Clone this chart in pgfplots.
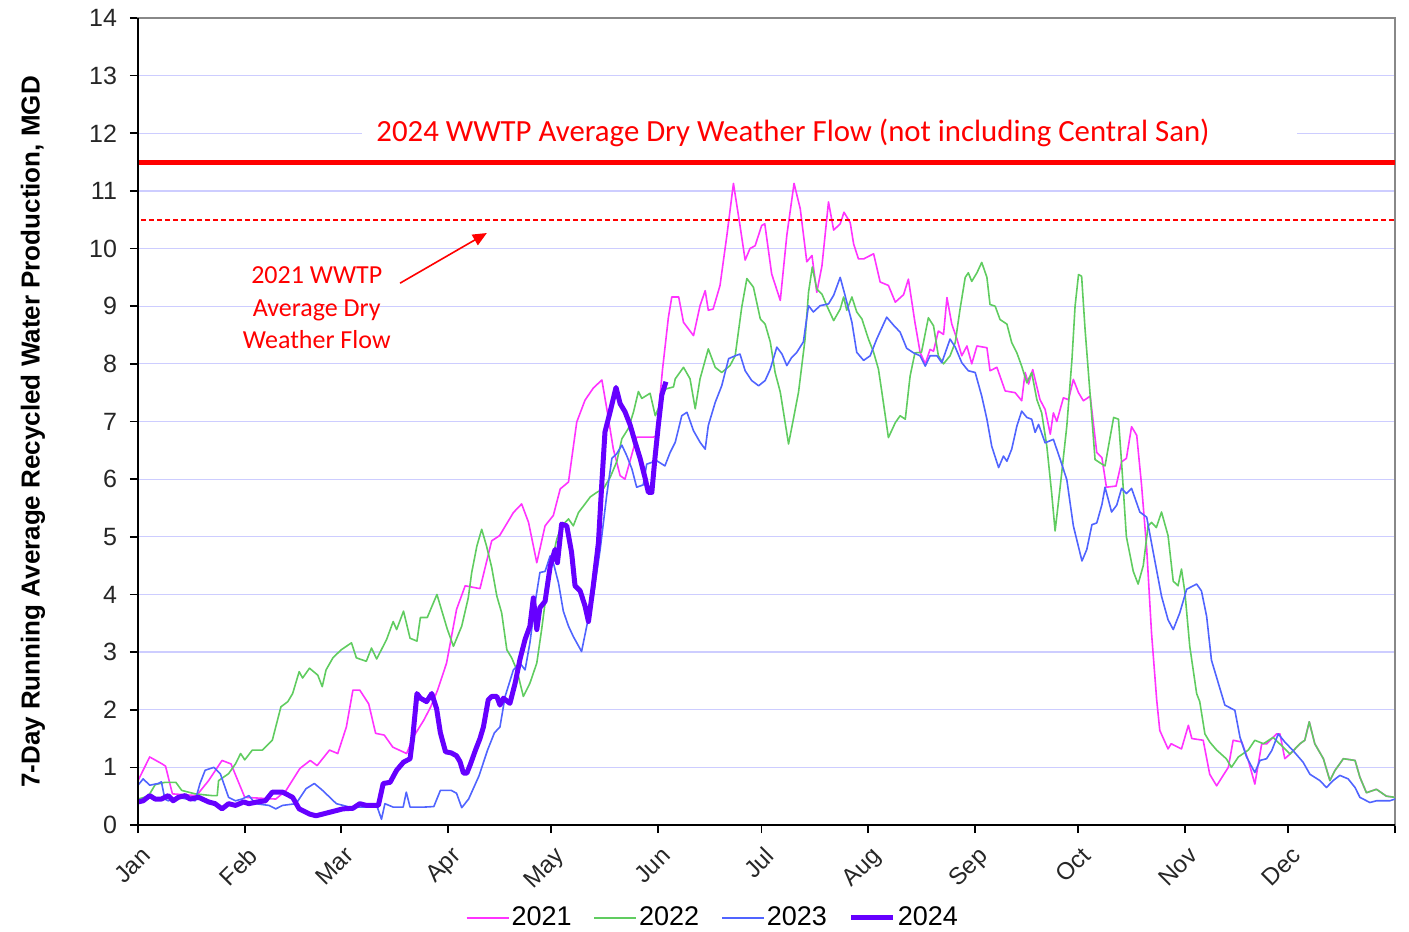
\documentclass[border=0pt]{standalone}
\usepackage{pgfplots}
\pgfplotsset{compat=1.18}
\usepackage{fontspec}
\setmainfont{Liberation Sans}
\newfontfamily\calfont{Carlito}
\usetikzlibrary{arrows.meta}
\definecolor{c21}{RGB}{255,51,255}
\definecolor{c22}{RGB}{96,204,96}
\definecolor{c23}{RGB}{80,100,255}
\definecolor{c24}{RGB}{102,0,255}
\definecolor{gridc}{RGB}{205,205,255}
\definecolor{redc}{RGB}{255,0,0}
\definecolor{framec}{RGB}{136,136,136}

\pgfplotstableread{
d v
0 0.77
3.4 1.18
7 1.06
8 1.02
10 0.54
17 0.51
20.5 0.77
24.4 1.12
27 1.06
31 0.48
40 0.45
43 0.6
47 0.98
50 1.12
52 1.03
55.6 1.3
58 1.24
60.5 1.7
62.4 2.34
64.4 2.34
67 2.1
69 1.59
71.5 1.56
74 1.35
78 1.24
80 1.53
83 1.82
85 2.05
87 2.34
89.6 2.81
92.5 3.74
95 4.15
99.3 4.1
102.7 4.93
105 5.02
109 5.42
111.4 5.57
113.4 5.25
115.8 4.55
118.2 5.19
120.6 5.37
122.6 5.83
125 5.95
127.4 6.99
129.8 7.37
132.2 7.58
134.7 7.72
136.1 7.23
138 6.53
140 6.06
141.4 6.0
144.8 6.73
149.7 6.73
150.5 6.75
152.3 7.9
154 8.8
155 9.16
157 9.16
158.4 8.72
161.3 8.49
163.2 9.01
164.7 9.27
165.6 8.93
167 8.95
169 9.36
171 10.23
172.9 11.13
174.8 10.4
176.3 9.8
177.7 10.0
179.2 10.05
181.1 10.4
182 10.43
184 9.56
186.5 9.1
188.4 10.23
190.5 11.13
192.3 10.69
194.2 9.77
195.7 9.88
197.1 9.24
198.6 9.7
200.5 10.81
202 10.32
203.9 10.43
205 10.63
206.8 10.45
207.8 10.08
209.2 9.82
210.7 9.82
213.6 9.91
215.5 9.42
217.9 9.36
219.9 9.07
222.3 9.2
223.7 9.47
225.6 8.72
227.1 8.2
228.6 8.0
230 8.25
231 8.22
232.4 8.57
233.9 8.51
234.9 9.15
236.3 8.69
237.8 8.43
239.2 8.14
240.7 8.31
242.1 8.0
243.6 8.31
246.5 8.28
247.4 7.88
249.4 7.94
251.8 7.53
254.7 7.5
256.6 7.36
257.6 7.85
258.6 7.65
259.8 7.9
261.9 7.38
263.4 7.21
264.9 6.78
265.8 7.15
266.8 7.0
268.7 7.41
270.2 7.38
271.6 7.73
273.1 7.5
274.5 7.36
276.5 7.44
278.4 6.46
279.9 6.37
281.2 5.86
284 5.88
285.6 6.3
287 6.36
288.5 6.91
290 6.76
291.4 5.9
292.9 4.79
294.3 3.33
295.8 2.17
296.7 1.64
299.1 1.32
300 1.41
303 1.32
305 1.73
306 1.5
309.3 1.47
311.2 0.88
313.2 0.68
315.1 0.86
316.6 1.0
318 1.47
320.5 1.44
322.4 1.12
324.3 0.71
326.3 1.41
327.8 1.41
330.6 1.58
331.6 1.58
333 1.15
334.5 1.23
337.4 1.41
338.8 1.47
340.1 1.79
341.7 1.41
344.2 1.15
346.1 0.77
347.5 0.94
350 1.15
353.4 1.12
354.8 0.83
356.7 0.56
359.6 0.62
362.5 0.5
365 0.48
}\dataA

\pgfplotstableread{
d v
0 0.45
3 0.5
5 0.7
7.8 0.74
11 0.74
12.7 0.6
16.6 0.54
21.5 0.51
23 0.51
23.4 0.77
26.3 0.89
28.3 1.06
29.8 1.24
31 1.13
33.2 1.3
36.1 1.3
39 1.47
41.5 2.05
43.5 2.14
44.9 2.28
46.8 2.66
47.8 2.55
49.8 2.72
52.2 2.6
53.5 2.4
54.6 2.69
56.6 2.9
59 3.04
62 3.16
63.4 2.9
66.3 2.84
67.8 3.07
69.3 2.88
72.2 3.22
74.1 3.53
75.1 3.39
77.1 3.71
79 3.24
81 3.19
82 3.6
84 3.6
86.8 4.0
89.8 3.4
91.6 3.1
94 3.45
95.9 3.94
96.9 4.38
98.4 4.84
99.8 5.13
101.2 4.84
102.7 4.47
104.2 3.97
105.6 3.68
107.1 3.04
108.5 2.9
110 2.69
111.9 2.23
113.8 2.46
115.8 2.81
117.2 3.39
118.2 3.85
120.1 4.55
121.6 4.96
123 5.19
125 5.31
126.4 5.19
127.9 5.42
129.8 5.57
131.3 5.69
133.2 5.77
135.1 5.83
137.1 6.03
139 6.3
140.5 6.7
142.4 6.88
143.9 7.17
145.3 7.52
146.3 7.4
148.7 7.49
150.2 7.1
151.6 7.3
153 7.56
155.5 7.6
156 7.74
158.4 7.94
160.3 7.74
161.8 7.22
163.2 7.74
165.6 8.26
166.6 8.1
167.6 7.94
169.5 7.85
171.9 7.97
173.4 8.14
175.3 8.98
176.8 9.48
178.7 9.33
180.7 8.78
182.1 8.69
183.6 8.38
185 7.85
186.5 7.51
188.9 6.61
190.3 7.04
191.8 7.51
193.7 8.43
194.7 9.24
195.8 9.68
197.1 9.3
198.6 9.21
200 9.01
202 8.75
203.9 8.95
204.9 9.16
205.8 8.93
207.3 9.16
208.7 8.9
210.2 8.78
212.1 8.43
213.6 8.2
215 7.91
216 7.51
217.9 6.72
219.9 6.98
221.3 7.1
222.8 7.04
224.2 7.79
225.6 8.19
227.5 8.2
229.5 8.8
231 8.66
232.4 8.14
233.9 8.0
235.8 8.14
237.3 8.37
238.7 8.95
240.2 9.5
241.1 9.58
242.1 9.43
243.6 9.58
245 9.76
246.5 9.5
247.4 9.03
248.9 9.0
250.3 8.77
252.3 8.69
253.7 8.37
255.2 8.19
256.6 7.96
258.1 7.67
259.5 7.85
261 7.38
262.4 7.15
263.9 6.57
265.3 5.76
266.3 5.1
267.8 5.88
269.7 6.92
271.2 8.08
272.1 9.0
273.1 9.55
274 9.52
275 8.6
276.5 7.44
277.9 6.34
279.4 6.28
280.8 6.23
281.8 6.57
283.3 7.07
284.7 7.04
285.7 6.2
287 5.0
289 4.4
290.4 4.18
291.9 4.5
293.3 5.19
294.3 5.25
295.7 5.16
297.2 5.43
299.1 5.02
300.6 4.23
302 4.15
303 4.44
304 4.03
305.4 3.1
307.4 2.28
308.3 2.14
309.8 1.58
311.2 1.44
313.2 1.3
316 1.15
317.5 1.0
319.5 1.18
322.4 1.3
324.3 1.47
326.8 1.41
329.6 1.52
332 1.38
334.5 1.23
337.4 1.41
338.8 1.47
340.1 1.79
341.7 1.41
344.2 1.15
346.1 0.77
347.5 0.94
350 1.15
353.4 1.12
354.8 0.83
356.7 0.56
359.6 0.62
362.5 0.5
365 0.48
}\dataB

\pgfplotstableread{
d v
0 0.69
1.5 0.8
3.4 0.69
5.9 0.72
6.8 0.75
7.8 0.45
8.8 0.42
11.7 0.48
16.6 0.42
18 0.72
19.5 0.95
22 1.0
23.9 0.89
26.3 0.48
28.3 0.42
30.2 0.45
32.2 0.51
34.1 0.37
38 0.34
40 0.28
42 0.34
45.9 0.37
48.8 0.63
51.2 0.72
53.6 0.6
57.6 0.37
61.5 0.31
65.4 0.31
69.3 0.34
70.7 0.1
71.7 0.37
74.1 0.31
77 0.31
77.9 0.57
79 0.31
82.9 0.31
85.9 0.32
87.8 0.6
91 0.6
92.5 0.55
94 0.3
96 0.45
99 0.85
101.5 1.3
103.5 1.6
105.1 1.7
106.6 2.23
109 2.69
110.9 2.81
112.4 2.69
113.8 3.16
115.3 3.85
116.7 4.38
118.2 4.4
119.7 4.67
120.6 4.55
122.1 4.2
123.5 3.71
125 3.45
126.4 3.27
128.8 3.01
130.3 3.45
132.2 3.97
134.2 4.78
136.1 5.72
137.6 6.36
139 6.44
140.5 6.59
141.9 6.41
143.4 6.18
144.8 5.86
146.7 5.9
147.7 6.26
150.6 6.32
153 6.23
154.5 6.46
156 6.64
157.9 7.1
159.4 7.16
161.3 6.84
163.2 6.64
164.7 6.52
165.6 6.93
167.6 7.33
169.5 7.62
171.5 8.09
173.4 8.14
174.8 8.17
176.3 7.88
178.2 7.71
180.2 7.62
182.1 7.71
183.6 7.91
185.5 8.29
187 8.17
188.4 7.97
189.8 8.11
191.3 8.2
193.2 8.38
194.7 9.01
196.1 8.9
198.1 9.01
200.5 9.04
202 9.19
203.9 9.5
205.3 9.19
207.3 8.72
208.7 8.2
210.7 8.06
212.6 8.14
214.5 8.43
217.4 8.81
219.4 8.67
221.3 8.55
223.2 8.27
225.2 8.19
227.1 8.14
228.6 7.96
230 8.14
232 8.14
233.4 8.02
235.8 8.43
237.3 8.29
239.2 8.02
241.1 7.88
243.1 7.85
245 7.44
246.5 7.04
247.9 6.57
249.9 6.2
251.3 6.4
252.3 6.31
253.7 6.52
255.2 6.92
256.6 7.18
258.1 7.07
259.5 7.04
260.5 6.81
261.5 6.95
263.4 6.63
265.8 6.69
267.8 6.34
269.7 5.99
271.6 5.19
274.1 4.58
275.5 4.78
277 5.21
278.4 5.24
279.9 5.56
280.8 5.86
282.7 5.43
284.2 5.55
285.6 5.84
287 5.75
288.5 5.84
290.9 5.43
292.9 5.34
294.8 4.73
297.2 3.97
299.1 3.56
300.6 3.39
302.5 3.68
304.5 4.09
307.4 4.18
308.8 4.06
310.3 3.62
311.7 2.86
313.7 2.46
315.6 2.08
318.5 1.99
320 1.52
321.9 1.18
324.3 0.91
325.8 1.12
327.7 1.15
329.2 1.29
331.1 1.58
333 1.44
335.4 1.29
338.3 1.09
340.3 0.88
343.2 0.77
345.1 0.65
347 0.77
349 0.86
351.4 0.8
353.4 0.65
354.8 0.48
357.7 0.39
359.6 0.42
363.5 0.42
365 0.45
}\dataC

\pgfplotstableread{
d v
0 0.4
1.5 0.42
3.4 0.51
5 0.45
6.8 0.45
8.8 0.51
10.2 0.42
11.7 0.48
13.7 0.51
15.1 0.45
17.6 0.48
20.5 0.4
22.4 0.37
24.4 0.28
26.3 0.37
28.3 0.34
30.7 0.4
32.2 0.37
34.6 0.4
37 0.42
39 0.57
42 0.57
44.9 0.48
46.8 0.28
49.8 0.19
51.7 0.16
55.6 0.22
59.5 0.28
62.4 0.29
64.4 0.37
66.3 0.34
69.8 0.34
71.2 0.72
73.2 0.74
75.1 0.95
77.1 1.09
79 1.15
79.8 1.53
81 2.28
82 2.2
83.8 2.14
85.3 2.28
86.7 2.02
87.8 1.6
89.3 1.27
91 1.25
92.5 1.2
93.5 1.1
94.5 0.9
95.5 0.9
96.5 1.05
98 1.3
99.3 1.5
100.3 1.7
101.7 2.17
102.7 2.23
104.2 2.23
105.1 2.08
106.1 2.2
108 2.11
109.5 2.46
110.9 2.87
112.4 3.22
113.8 3.45
114.8 3.94
115.8 3.39
116.7 3.77
118.2 3.88
119.7 4.49
121.1 4.78
121.8 4.55
123 5.22
124.5 5.19
125.9 4.73
126.9 4.15
128.4 4.06
129.8 3.8
130.8 3.53
132.2 4.15
133.7 4.9
134.7 5.95
135.6 6.82
137.1 7.17
138.8 7.59
140 7.31
141.4 7.17
142.9 6.94
144.3 6.65
145.8 6.36
147.2 6.03
148.2 5.77
149.2 5.77
150.1 6.36
151.1 6.94
152.1 7.46
153.3 7.69
}\dataD

\begin{document}
\begin{tikzpicture}
\path[use as bounding box] (-69pt,-53.5pt) rectangle (635.5pt,412.5pt);
\begin{axis}[
  at={(0pt,0pt)}, anchor=south west,
  scale only axis, width=628.5pt, height=403.5pt,
  xmin=0, xmax=365, ymin=0, ymax=14,
  clip=false,
  xtick={0,31,59,90,120,151,181,212,243,273,304,334,365},
  xticklabels={Jan,Feb,Mar,Apr,May,Jun,Jul,Aug,Sep,Oct,Nov,Dec,},
  ytick={0,1,...,14},
  ymajorgrids, grid style={gridc, line width=0.6pt},
  tick align=outside, tick pos=left, major tick length=4pt,
  tick style={black, line width=0.8pt},
  axis line style={draw=framec, line width=1.4pt},
  /pgf/number format/assume math mode=true,
  yticklabel style={font=\fontsize{12.5}{14}\selectfont, color=black!85, xshift=-3pt},
  xticklabel style={font=\fontsize{12}{14}\selectfont, color=black!85, rotate=45, anchor=north east, inner sep=1pt, xshift=-2.5pt, yshift=-4pt},
  ylabel={\bfseries 7-Day Running Average Recycled Water Production, MGD},
  ylabel style={at={(axis description cs:-0.0835,0.487)}, anchor=center, font=\fontsize{13}{15}\selectfont},
  legend style={at={(axis description cs:0.4574,-0.1152)}, anchor=center, draw=none, fill=none,
    legend columns=4, font=\fontsize{13.5}{15}\selectfont,
    /tikz/every even column/.append style={column sep=10pt},
    nodes={inner sep=1pt}},
  legend image code/.code={\draw[#1] (0pt,0pt) -- (21pt,0pt);},
]
\addplot[c21, line width=0.8pt, line join=round] table[x=d,y=v] {\dataA};
\addlegendentry{2021}
\addplot[c22, line width=0.8pt, line join=round] table[x=d,y=v] {\dataB};
\addlegendentry{2022}
\addplot[c23, line width=0.8pt, line join=round] table[x=d,y=v] {\dataC};
\addlegendentry{2023}
\addplot[c24, line width=2.5pt, line join=round] table[x=d,y=v] {\dataD};
\addlegendentry{2024}
\addplot[draw=redc, line width=2.5pt, forget plot] coordinates {(0,11.5) (365,11.5)};
\end{axis}
\begin{axis}[
  at={(0pt,0pt)}, anchor=south west,
  scale only axis, width=628.5pt, height=403.5pt,
  xmin=0, xmax=365, ymin=0, ymax=14,
  clip=false, axis lines=none, ticks=none,
]
\addplot[red, line width=0.8pt, dash pattern=on 2.5pt off 1.5pt] coordinates {(1,10.5) (365,10.5)};
\fill[white] (axis cs:65,11.82) rectangle (axis cs:336.5,12.2);
\node[font=\calfont\fontsize{15.4}{17}\selectfont, text=redc] at (axis cs:190.2,12.0) {2024 WWTP Average Dry Weather Flow (not including Central San)};
\node[align=center, font=\calfont\fontsize{13}{16.25}\selectfont, text=redc] at (axis cs:51.9,8.97) {2021 WWTP\\Average Dry\\Weather Flow};
\draw[redc, line width=0.8pt, -{Triangle[length=7pt,width=6pt]}] (axis cs:76.1,9.40) -- (axis cs:101.3,10.27);
\draw[black, line width=1.2pt] (rel axis cs:0,1) -- (rel axis cs:0,0) -- (rel axis cs:1,0);
\end{axis}
\end{tikzpicture}
\end{document}
